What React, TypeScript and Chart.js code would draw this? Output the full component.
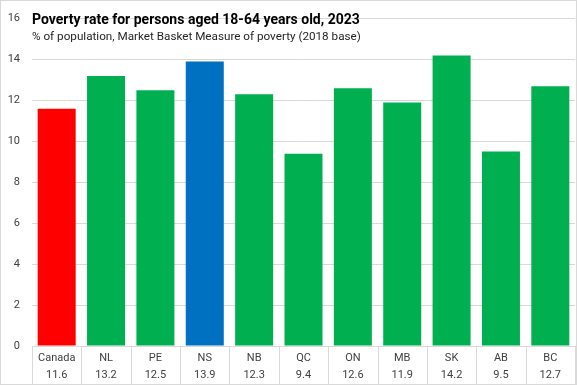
import React, { useEffect, useRef } from "react";
import { Chart, registerables } from "chart.js";

Chart.register(...registerables);

const categories = ["Canada", "NL", "PE", "NS", "NB", "QC", "ON", "MB", "SK", "AB", "BC"];
const values = [11.6, 13.2, 12.5, 13.9, 12.3, 9.4, 12.6, 11.9, 14.2, 9.5, 12.7];
const barColors = ["#ff0000", "#00b050", "#00b050", "#0070c0", "#00b050", "#00b050", "#00b050", "#00b050", "#00b050", "#00b050", "#00b050"];
const titleText = "Poverty rate for persons aged 18-64 years old, 2023";
const subtitleText = "% of population, Market Basket Measure of poverty (2018 base)";
const yMin = 0;
const yMax = 16;
const yStep = 2;

const FONT = "Roboto, 'Open Sans', sans-serif";

const overlayPlugin = {
  id: "overlay",
  afterDraw(chart: any) {
    const { ctx, chartArea, scales } = chart;
    const x = scales.x;
    ctx.save();
    ctx.strokeStyle = "#d9d9d9";
    ctx.lineWidth = 1;
    const n = categories.length;
    const half = (x.getPixelForValue(1) - x.getPixelForValue(0)) / 2;
    for (let i = 0; i <= n; i++) {
      const px = Math.round(x.getPixelForValue(i) - half) + 0.5;
      ctx.beginPath();
      ctx.moveTo(px, chartArea.bottom);
      ctx.lineTo(px, chart.height);
      ctx.stroke();
    }
    ctx.strokeRect(0.5, 0.5, chart.width - 1, chart.height - 1);
    ctx.textAlign = "left";
    ctx.textBaseline = "alphabetic";
    ctx.fillStyle = "#000000";
    ctx.font = `bold 14px ${FONT}`;
    ctx.fillText(titleText, chartArea.left, 24);
    ctx.fillStyle = "#262626";
    ctx.font = `11.7px ${FONT}`;
    ctx.fillText(subtitleText, chartArea.left, 40);
    ctx.restore();
  },
};

export default function App() {
  const ref = useRef<HTMLCanvasElement | null>(null);
  useEffect(() => {
    document.body.style.margin = "0";
    const chart = new Chart(ref.current as HTMLCanvasElement, {
      type: "bar",
      data: {
        labels: categories.map((c, i) => [c, values[i].toFixed(1)]),
        datasets: [
          {
            data: values,
            backgroundColor: barColors,
            borderWidth: 0,
            barPercentage: 0.77,
            categoryPercentage: 1,
          },
        ],
      },
      options: {
        animation: false,
        responsive: false,
        maintainAspectRatio: false,
        layout: { padding: { top: 7, right: 2, left: 0, bottom: 0 } },
        plugins: { legend: { display: false }, tooltip: { enabled: false }, title: { display: false } },
        scales: {
          x: {
            grid: { display: false },
            border: { display: false },
            ticks: {
              color: "#404040",
              font: { family: FONT, size: 11, lineHeight: 1.55 },
              padding: -4,
              maxRotation: 0,
              autoSkip: false,
            },
            afterFit: (s: any) => {
              s.height = 39;
            },
          },
          y: {
            min: yMin,
            max: yMax,
            grid: { color: "#d9d9d9", drawTicks: false },
            border: { display: false },
            ticks: {
              stepSize: yStep,
              color: "#404040",
              font: { family: FONT, size: 11 },
              padding: 12,
            },
            afterFit: (s: any) => {
              s.width = 32;
            },
          },
        },
      },
      plugins: [overlayPlugin],
    });
    return () => chart.destroy();
  }, []);
  return (
    <div style={{ position: "absolute", left: 0, top: 0, width: 577, height: 385, background: "#fff" }}>
      <canvas ref={ref} width={577} height={385} style={{ width: 577, height: 385, display: "block" }} />
    </div>
  );
}
